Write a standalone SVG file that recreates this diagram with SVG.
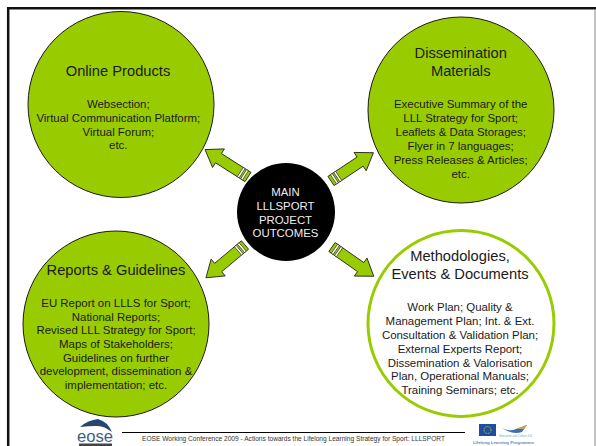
<svg xmlns="http://www.w3.org/2000/svg" width="596" height="446" viewBox="0 0 596 446">
<style>
text{font-family:"Liberation Sans",Arial,sans-serif;text-anchor:middle;fill:#1a1a1a}
.b{font-size:11.450px}
.t{font-size:14.700px}
.g{fill:#99cc00;stroke:#1a1a1a;stroke-width:1}
.a{fill:#99cc00;stroke:#1a1a1a;stroke-width:.8}
.s{fill:#fff;stroke:#1a1a1a;stroke-width:.6}
.m{font-size:11.400px;fill:#eee}
</style>
<defs>
<g id="arrow">
<path class="a" d="M0-5.500H35V-11L51 0 35 11V5.500H0Z"/>
<rect class="s" x="3" y="-5.500" width="2.200" height="11"/>
<rect class="s" x="7" y="-5.500" width="2.200" height="11"/>
</g>
</defs>
<rect width="596" height="446" fill="#fff"/>
<path d="M8.200 446V8.200H596" fill="none" stroke="#111" stroke-width="2.500"/>
<line x1="595" y1="9" x2="595" y2="446" stroke="#888"/>
<g id="connectors">
<use href="#arrow" transform="translate(248 177) rotate(-147.500)"/>
<use href="#arrow" transform="translate(331 181) rotate(-33.700)"/>
<use href="#arrow" transform="translate(245 245) rotate(140)"/>
<use href="#arrow" transform="translate(332 247) rotate(35)"/>
</g>
<g id="online">
<circle class="g" cx="121" cy="104.500" r="93"/>
<text class="t" x="118" y="75.700">Online Products</text>
<text class="b" x="118.300" y="108.300">Websection;</text>
<text class="b" x="118.300" y="122">Virtual Communication Platform;</text>
<text class="b" x="118.300" y="135.700">Virtual Forum;</text>
<text class="b" x="118.300" y="149.400">etc.</text>
</g>
<g id="dissemination">
<circle class="g" cx="461" cy="110" r="93"/>
<text class="t" x="460.700" y="57.700">Dissemination</text>
<text class="t" x="460.700" y="75.700">Materials</text>
<text class="b" x="460.700" y="107.700">Executive Summary of the</text>
<text class="b" x="460.700" y="121.700">LLL Strategy for Sport;</text>
<text class="b" x="460.700" y="135.700">Leaflets &amp; Data Storages;</text>
<text class="b" x="460.700" y="149.700">Flyer in 7 languages;</text>
<text class="b" x="460.700" y="163.700">Press Releases &amp; Articles;</text>
<text class="b" x="460.700" y="177.700">etc.</text>
</g>
<g id="reports">
<circle class="g" cx="116" cy="324" r="93"/>
<text class="t" x="116" y="275">Reports &amp; Guidelines</text>
<text class="b" x="116" y="307">EU Report on LLLS for Sport;</text>
<text class="b" x="116" y="320.700">National Reports;</text>
<text class="b" x="116" y="334.400">Revised LLL Strategy for Sport;</text>
<text class="b" x="116" y="348">Maps of Stakeholders;</text>
<text class="b" x="116" y="361.700">Guidelines on further</text>
<text class="b" x="116" y="375.400">development, dissemination &amp;</text>
<text class="b" x="116" y="389">implementation; etc.</text>
</g>
<g id="methodologies">
<circle cx="461" cy="323.500" r="93" fill="#fff" stroke="#99cc00" stroke-width="3"/>
<text class="t" x="460" y="261">Methodologies,</text>
<text class="t" x="460" y="279">Events &amp; Documents</text>
<text class="b" x="460" y="311">Work Plan; Quality &amp;</text>
<text class="b" x="460" y="325">Management Plan; Int. &amp; Ext.</text>
<text class="b" x="460" y="339">Consultation &amp; Validation Plan;</text>
<text class="b" x="460" y="353">External Experts Report;</text>
<text class="b" x="460" y="367">Dissemination &amp; Valorisation</text>
<text class="b" x="460" y="380">Plan, Operational Manuals;</text>
<text class="b" x="460" y="393.500">Training Seminars; etc.</text>
</g>
<g id="main">
<circle cx="286" cy="212" r="49" fill="#000"/>
<text class="m" x="285.500" y="196">MAIN</text>
<text class="m" x="285.500" y="210">LLLSPORT</text>
<text class="m" x="285.500" y="223.500">PROJECT</text>
<text class="m" x="285.500" y="237">OUTCOMES</text>
</g>
<g id="footer">
<line x1="122" y1="432.500" x2="465" y2="432.500" stroke="#000"/>
<text x="293.500" y="441" style="font-size:6.600px;fill:#333">EOSE Working Conference 2009 - Actions towards the Lifelong Learning Strategy for Sport: LLLSPORT</text>
</g>
<g id="logo-eose">
<path d="M80 427Q88 420 98 419Q108 422 112 432Q103 425 96 426Q88 426 80 427Z" fill="#24466f"/>
<text x="95" y="442" style="font-size:17px;fill:#3b5f8a" textLength="36" lengthAdjust="spacingAndGlyphs">eose</text>
<rect x="79" y="443.500" width="33" height="2.500" fill="#444"/>
</g>
<g id="logo-eu">
<rect x="479" y="424" width="17" height="12" fill="#1d4f9e"/>
<circle cx="487.500" cy="430" r="3.500" fill="none" stroke="#e8d44a" stroke-width="1" stroke-dasharray="1 1"/>
<path d="M502 428Q510 432 516 429L527 425L522 432Q512 435 502 428Z" fill="#3a6fb5"/>
<path d="M516 429L527 425L524 429Z" fill="#c9a44a"/>
<text x="515.500" y="437" style="font-size:2.800px;fill:#7a9fc9">Education and Culture DG</text>
<text x="503.500" y="444" style="font-size:4.300px;fill:#5a8ac9;font-weight:bold">Lifelong Learning Programme</text>
</g>
</svg>
